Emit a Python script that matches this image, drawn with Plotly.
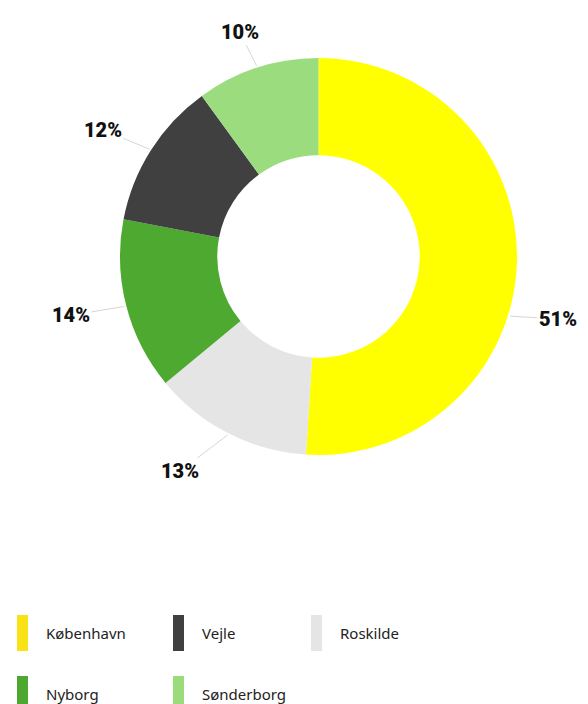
import math
import plotly.graph_objects as go

# ---- data ----
pie_labels = ["København", "Roskilde", "Nyborg", "Vejle", "Sønderborg"]
pie_values = [51, 13, 14, 12, 10]
pie_colors = ["#FFFF00", "#E5E5E5", "#4DA92F", "#404040", "#9BDC7F"]

legend_labels = ["København", "Vejle", "Roskilde", "Nyborg", "Sønderborg"]
legend_colors = ["#F9E316", "#404040", "#E5E5E5", "#4CA830", "#9ADC7C"]

# ---- layout constants (window pixels) ----
OFF = 8  # page body margin
W, H = 588 - OFF, 704 - OFF
CX, CY, R = 318.5, 256.5, 198.5
HOLE = 0.51

def px(x):
    return (x - OFF) / W

def py(y):
    return 1 - (y - OFF) / H

fig = go.Figure(go.Pie(
    labels=pie_labels,
    values=pie_values,
    marker=dict(colors=pie_colors, line=dict(width=0)),
    hole=HOLE,
    sort=False,
    direction="clockwise",
    rotation=0,
    textinfo="none",
    hoverinfo="label+percent",
    domain=dict(x=[px(CX - R), px(CX + R)], y=[py(CY + R), py(CY - R)]),
))

# ---- outside labels with leader lines ----
line_angle_adjust = {0: 15.5}
label_adjust = {0: (14, -7), 1: (4, 14)}  # (angle deg, extra radius px)
annotations = []
total = sum(pie_values)
cum = 0
for i, v in enumerate(pie_values):
    mid = (cum + v / 2) / total
    cum += v
    base = 360 * mid
    la = math.radians(base + line_angle_adjust.get(i, 0))
    sx, sy = CX + (R + 2) * math.sin(la), CY - (R + 2) * math.cos(la)
    da, dr = label_adjust.get(i, (0, 0))
    a = math.radians(base + da)
    s, c = math.sin(a), math.cos(a)
    rl = R + 38 + dr
    tx = CX + rl * s + 19 * s
    ty = CY - rl * c
    annotations.append(dict(
        x=px(sx), y=py(sy), xref="paper", yref="paper",
        ax=tx - sx, ay=ty - sy,
        text=f"{round(100 * v / total)}%",
        showarrow=True, arrowhead=0, arrowwidth=1, arrowcolor="#D6D6D6",
        font=dict(family="Roboto", size=20, color="#111111", weight=900),
        borderpad=1,
    ))

# ---- custom legend ----
shapes = []
col_x = [17, 173, 311]
row_y = [633, 694]
for i, (lab, col) in enumerate(zip(legend_labels, legend_colors)):
    r, cidx = divmod(i, 3)
    x0 = col_x[cidx]
    yc = row_y[r]
    shapes.append(dict(
        type="rect", xref="paper", yref="paper",
        x0=px(x0), x1=px(x0 + 11), y0=py(yc + 18), y1=py(yc - 18),
        fillcolor=col, line=dict(width=0),
    ))
    annotations.append(dict(
        x=px(x0 + 27), y=py(yc), xref="paper", yref="paper",
        xanchor="left", yanchor="middle", showarrow=False,
        text=lab, font=dict(family="Noto Sans", size=15, color="#222222"),
    ))

fig.update_layout(
    width=W, height=H,
    margin=dict(l=0, r=0, t=0, b=0),
    showlegend=False,
    paper_bgcolor="white",
    plot_bgcolor="white",
    annotations=annotations,
    shapes=shapes,
)

fig.write_html("out.html")
